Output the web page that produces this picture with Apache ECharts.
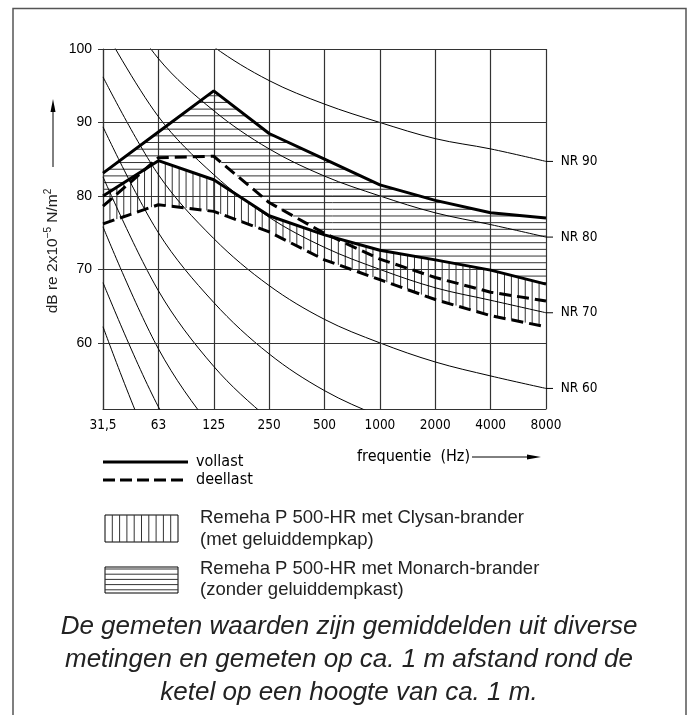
<!DOCTYPE html>
<html>
<head>
<meta charset="utf-8">
<script src="https://cdn.jsdelivr.net/npm/echarts@6/dist/echarts.min.js"></script>
<style>
  html, body { margin: 0; padding: 0; background: #fff; }
  #chart { width: 690px; height: 715px; }
</style>
</head>
<body>
<div id="chart"></div>
<script>
// octave bands (x axis)
const freqLabels = ['31,5', '63', '125', '250', '500', '1000', '2000', '4000', '8000']
const yTicks = [60, 70, 80, 90, 100]

// Monarch-brander (horizontal hatch)
const monarchVollast = [83.1, 88.7, 94.3, 88.5, 85.0, 81.5, 79.4, 77.7, 77.0]
const monarchDeellast = [78.6, 85.2, 85.4, 79.1, 74.9, 71.4, 68.9, 66.9, 65.7]
// Clysan-brander (vertical hatch)
const clysanVollast = [80.0, 84.8, 82.2, 77.3, 74.7, 72.6, 71.3, 69.9, 68.0]
const clysanDeellast = [76.2, 78.8, 77.9, 75.1, 71.3, 68.6, 65.9, 63.7, 62.2]

// NR curves
const nr10 = [62.2, 43.5, 30.7, 21.3, 14.5, 10.0, 6.6, 4.2, 2.3]
const nr20 = [68.2, 51.3, 39.4, 30.7, 24.3, 20.0, 16.8, 14.4, 12.6]
const nr30 = [75.8, 59.2, 48.1, 40.0, 34.0, 30.0, 26.9, 24.7, 22.9]
const nr40 = [82.6, 67.1, 56.8, 49.6, 43.8, 40.0, 37.1, 35.0, 33.2]
const nr50 = [89.4, 75.0, 65.5, 58.5, 53.5, 50.0, 47.2, 45.2, 43.5]
const nr60 = [96.2, 82.9, 74.2, 67.8, 63.2, 60.0, 57.4, 55.5, 53.8]
const nr70 = [103.0, 90.8, 82.9, 77.1, 73.0, 70.0, 67.5, 65.8, 64.1]
const nr80 = [109.8, 98.7, 91.6, 86.4, 82.7, 80.0, 77.7, 76.1, 74.4]
const nr90 = [116.6, 106.6, 100.3, 95.7, 92.5, 90.0, 87.8, 86.4, 84.7]
const nrCurves = [[10, nr10], [20, nr20], [30, nr30], [40, nr40], [50, nr50], [60, nr60], [70, nr70], [80, nr80], [90, nr90]]
const nrLabelled = [60, 70, 80, 90]

const captionLines = [
  'De gemeten waarden zijn gemiddelden uit diverse',
  'metingen en gemeten op ca. 1 m afstand rond de',
  'ketel op een hoogte van ca. 1 m.'
]

const hatchPitchDb = 10 / 11   // horizontal hatch spacing
const hatchPerOctave = 8       // vertical hatch lines per octave
const condensed = '"DejaVu Sans Condensed", "DejaVu Sans", sans-serif'
const arial = '"Liberation Sans", Arial, sans-serif'

const toPoints = arr => arr.map((v, i) => [i, v])
const lerp = (a, b, t) => a + (b - a) * t
const valueAt = (arr, x) => {
  const i = Math.min(Math.floor(x), arr.length - 2)
  return lerp(arr[i], arr[i + 1], x - i)
}

// part of [0,1] where a0 + (a1 - a0) t >= 0
const posRange = (a0, a1) => {
  if (a0 >= 0 && a1 >= 0) return [0, 1]
  if (a0 < 0 && a1 < 0) return null
  const t = a0 / (a0 - a1)
  return a0 >= 0 ? [0, t] : [t, 1]
}

const renderHatch = (params, api) => {
  const children = []
  const seg = (p1, p2) => children.push({
    type: 'line',
    shape: { x1: p1[0], y1: p1[1], x2: p2[0], y2: p2[1] },
    style: { stroke: '#333', lineWidth: 1 }
  })

  // Clysan: vertical lines between vollast and deellast
  for (let k = 1; k < 8 * hatchPerOctave; k++) {
    const x = k / hatchPerOctave
    seg(api.coord([x, valueAt(clysanVollast, x)]), api.coord([x, valueAt(clysanDeellast, x)]))
  }

  // Monarch: horizontal lines from vollast down to the higher of monarch deellast / clysan vollast
  const env = []
  for (let i = 0; i < 9; i++) {
    env.push([i, monarchVollast[i], Math.max(monarchDeellast[i], clysanVollast[i])])
    if (i < 8) {
      const d0 = monarchDeellast[i] - clysanVollast[i]
      const d1 = monarchDeellast[i + 1] - clysanVollast[i + 1]
      if (d0 * d1 < 0) {
        const t = d0 / (d0 - d1)
        env.push([i + t, lerp(monarchVollast[i], monarchVollast[i + 1], t), lerp(monarchDeellast[i], monarchDeellast[i + 1], t)])
      }
    }
  }
  for (let y = 100 - hatchPitchDb; y > 51; y -= hatchPitchDb) {
    for (let j = 0; j < env.length - 1; j++) {
      const [x0, u0, l0] = env[j]
      const [x1, u1, l1] = env[j + 1]
      const r1 = posRange(u0 - y, u1 - y)
      const r2 = posRange(y - l0, y - l1)
      if (!r1 || !r2) continue
      const lo = Math.max(r1[0], r2[0])
      const hi = Math.min(r1[1], r2[1])
      if (hi - lo < 1e-6) continue
      seg(api.coord([lerp(x0, x1, lo), y]), api.coord([lerp(x0, x1, hi), y]))
    }
  }
  return { type: 'group', children }
}

const gridLine = { color: '#333', width: 1.2 }

const nrSeries = nrCurves.map(([level, values], idx) => ({
  type: 'line',
  data: toPoints(values),
  smooth: 0.35,
  symbol: 'none',
  silent: true,
  z: 2,
  lineStyle: { color: '#000', width: 1 },
  endLabel: nrLabelled.includes(level) ? {
    show: true,
    distance: 0,
    formatter: '{l| }  NR ' + level,
    fontFamily: condensed,
    fontSize: 13.5,
    color: '#000',
    rich: { l: { width: 7, height: 1, backgroundColor: '#000' } }
  } : { show: false },
  markLine: idx === 0 ? {
    silent: true,
    symbol: ['none', 'none'],
    label: { show: false },
    lineStyle: { type: 'solid', color: '#333', width: 1.2 },
    data: yTicks.map(v => ({ yAxis: v }))
  } : undefined
}))

const thick = (values, dashed) => ({
  type: 'line',
  data: toPoints(values),
  symbol: 'none',
  silent: true,
  z: 5,
  lineStyle: { color: '#000', width: 3, type: dashed ? [12, 6] : 'solid', cap: 'butt' }
})

const chart = echarts.init(document.getElementById('chart'))

const legendGraphics = [
  { type: 'line', shape: { x1: 103, y1: 462, x2: 188, y2: 462 }, style: { stroke: '#000', lineWidth: 3 } },
  { type: 'line', shape: { x1: 103, y1: 480, x2: 188, y2: 480 }, style: { stroke: '#000', lineWidth: 3, lineDash: [12, 5] } },
  { type: 'text', x: 196, y: 462, style: { text: 'vollast', font: '16px ' + condensed, fill: '#000', textAlign: 'left', textVerticalAlign: 'middle' } },
  { type: 'text', x: 196, y: 480, style: { text: 'deellast', font: '16px ' + condensed, fill: '#000', textAlign: 'left', textVerticalAlign: 'middle' } },
  { type: 'rect', shape: { x: 105, y: 515, width: 73, height: 27 }, style: { fill: '#fff', stroke: '#000', lineWidth: 1 } },
  { type: 'rect', shape: { x: 105, y: 567, width: 73, height: 26 }, style: { fill: '#fff', stroke: '#000', lineWidth: 1 } }
]
for (let k = 1; k < 10; k++) {
  const x = 105 + k * 7.3
  legendGraphics.push({ type: 'line', shape: { x1: x, y1: 515, x2: x, y2: 542 }, style: { stroke: '#333', lineWidth: 1 } })
}
for (let k = 0; k < 5; k++) {
  const y = 569 + k * 5.2
  legendGraphics.push({ type: 'line', shape: { x1: 105, y1: y, x2: 178, y2: y }, style: { stroke: '#333', lineWidth: 1 } })
}
const legendTexts = [
  ['Remeha P 500-HR met Clysan-brander', 518],
  ['(met geluiddempkap)', 540],
  ['Remeha P 500-HR met Monarch-brander', 569],
  ['(zonder geluiddempkast)', 590]
]
legendTexts.forEach(([t, y]) => legendGraphics.push({
  type: 'text', x: 200, y,
  style: { text: t, font: '18.5px ' + arial, fill: '#222', textAlign: 'left', textVerticalAlign: 'middle' }
}))

const option = {
  animation: false,
  backgroundColor: '#fff',
  grid: { left: 103, right: 144, top: 49, bottom: 306, containLabel: false },
  xAxis: {
    type: 'value',
    min: 0,
    max: 8,
    interval: 1,
    axisLine: { show: true, onZero: false, lineStyle: gridLine },
    axisTick: { show: false },
    splitLine: { show: true, lineStyle: gridLine },
    axisLabel: {
      margin: 9,
      color: '#000',
      fontFamily: condensed,
      fontSize: 13.5,
      formatter: v => freqLabels[v] ?? ''
    }
  },
  yAxis: {
    type: 'value',
    min: 51,
    max: 100,
    splitLine: { show: false },
    axisLine: { show: true, onZero: false, lineStyle: gridLine },
    axisTick: { show: true, inside: false, length: 5, customValues: yTicks, lineStyle: { color: '#333' } },
    axisLabel: {
      customValues: yTicks,
      margin: 11,
      color: '#000',
      fontFamily: arial,
      fontSize: 14,
      formatter: v => (v % 10 === 0 ? String(v) : '')
    }
  },
  series: [
    { type: 'custom', data: [[0, 51]], renderItem: renderHatch, silent: true, z: 1 },
    ...nrSeries,
    thick(monarchVollast, false),
    thick(monarchDeellast, true),
    thick(clysanVollast, false),
    thick(clysanDeellast, true)
  ],
  graphic: [
    // frame
    { type: 'polyline', shape: { points: [[13, 715], [13, 8.5], [686, 8.5], [686, 715]] }, style: { stroke: '#555', lineWidth: 1.5, fill: null } },
    // y axis title with arrow
    { type: 'line', shape: { x1: 53, y1: 167, x2: 53, y2: 108 }, style: { stroke: '#000', lineWidth: 1 } },
    { type: 'polygon', shape: { points: [[53, 99], [50.5, 112], [55.5, 112]] }, style: { fill: '#000' } },
    {
      type: 'text', x: 53, y: 251, rotation: Math.PI / 2,
      style: {
        text: 'dB re 2x10{sup|−5} N/m{sup|2}',
        font: '15.5px ' + arial,
        fill: '#222',
        textAlign: 'center',
        textVerticalAlign: 'middle',
        rich: { sup: { fontSize: 10, fontFamily: arial, verticalAlign: 'top', padding: [0, 0, 9, 0] } }
      }
    },
    // x axis title with arrow
    { type: 'text', x: 357, y: 457, style: { text: 'frequentie  (Hz)', font: '16px ' + condensed, fill: '#000', textAlign: 'left', textVerticalAlign: 'middle' } },
    { type: 'line', shape: { x1: 472, y1: 457, x2: 530, y2: 457 }, style: { stroke: '#000', lineWidth: 1 } },
    { type: 'polygon', shape: { points: [[541, 457], [527, 454.5], [527, 459.5]] }, style: { fill: '#000' } },
    ...legendGraphics,
    ...captionLines.map((t, i) => ({
      type: 'text', x: 349, y: 627 + i * 33,
      style: { text: t, font: 'italic 26px ' + arial, fill: '#222', textAlign: 'center', textVerticalAlign: 'middle' }
    }))
  ]
}

chart.setOption(option)
</script>
</body>
</html>
